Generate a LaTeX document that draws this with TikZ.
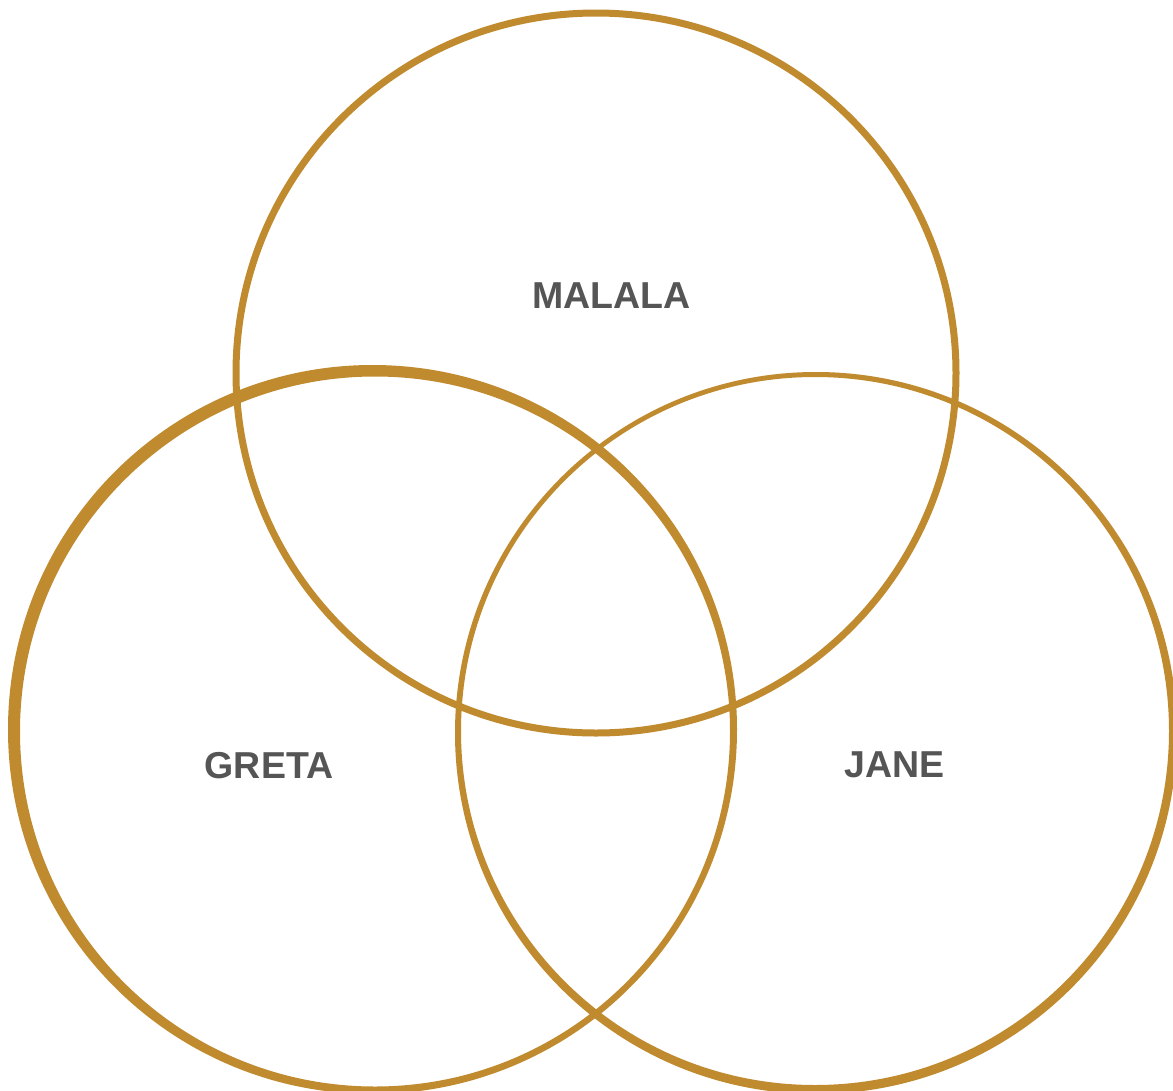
\documentclass[tikz,border=0pt]{standalone}
\usepackage{fontspec}
\setmainfont{Liberation Sans}
\definecolor{gold}{HTML}{C08A2E}
\definecolor{labelgray}{HTML}{555555}
\tikzset{
  ring/.style={fill=gold, even odd rule},
  lbl/.style={anchor=base, inner sep=0pt, text=labelgray, font=\fontsize{37.5}{40}\selectfont\bfseries}
}
\begin{document}
\begin{tikzpicture}[x=1pt,y=-1pt]
\useasboundingbox[fill=white] (0,0) rectangle (1173,1090);
% top circle (MALALA)
\fill[ring] (596,373) circle (363.5pt) (596,373) circle (356.5pt);
% left circle (GRETA)
\fill[ring] (372.5,729.5) circle (364.5pt) (375,731.5) circle (355pt);
% right circle (JANE)
\fill[ring] (816,733) circle (361pt) (815,731) circle (354pt);
\node[lbl] (malala) at (611.5,308) {MALALA};
\node[lbl] (greta) at (269,778) {GRETA};
\node[lbl] (jane) at (895,777) {JANE};
\end{tikzpicture}
\end{document}
